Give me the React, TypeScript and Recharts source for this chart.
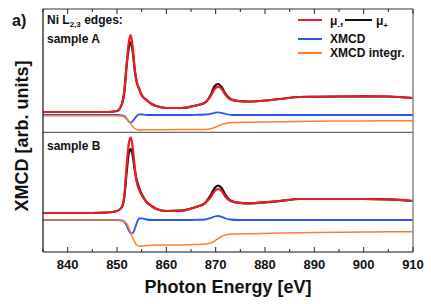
import { LineChart, Line, XAxis, YAxis, ReferenceLine } from "recharts";

// photon energy grid [eV]
const energy = [
  835, 840, 845, 848, 850, 851, 851.5, 852, 852.4, 852.8, 853.2, 853.6, 854, 854.5, 855, 856, 857, 858, 860, 863,
  866, 867.8, 869, 869.8, 870.5, 871.2, 872, 873, 874.5, 876.3, 879, 883, 887, 890, 895, 900, 905, 910,
];

// sample A (upper panel, offset)
const muMinusA = [
  14.1, 14.1, 14.1, 14.1, 14.2, 14.9, 16.3, 19.1, 21.1, 21.8, 20.5, 18.3, 17.1, 16.4, 15.8, 15.3, 14.9, 14.7, 14.5, 14.5,
  14.75, 15.03, 15.7, 16.4, 16.63, 16.4, 15.8, 15.35, 15.2, 15.15, 15.2, 15.4, 15.6, 15.62, 15.65, 15.67, 15.65, 15.5,
];
const muPlusA = [
  14.1, 14.1, 14.1, 14.1, 14.2, 14.9, 16.2, 19.0, 20.5, 21.1, 20.1, 18.3, 17.1, 16.4, 15.8, 15.3, 14.9, 14.7, 14.5, 14.5,
  14.75, 15.03, 15.8, 16.7, 16.9, 16.6, 15.9, 15.4, 15.2, 15.15, 15.2, 15.4, 15.6, 15.62, 15.65, 15.67, 15.65, 15.5,
];
const xmcdA = [
  13.8, 13.8, 13.8, 13.8, 13.8, 13.77, 13.7, 13.4, 13.15, 13.03, 13.2, 13.45, 13.7, 13.87, 13.85, 13.8, 13.8, 13.8, 13.8, 13.8,
  13.82, 13.85, 13.92, 14.02, 14.07, 14.02, 13.9, 13.82, 13.8, 13.8, 13.8, 13.8, 13.8, 13.8, 13.8, 13.8, 13.8, 13.8,
];
const integrA = [
  13.73, 13.73, 13.73, 13.73, 13.73, 13.7, 13.6, 13.4, 13.15, 12.9, 12.65, 12.45, 12.35, 12.3, 12.3, 12.32, 12.32, 12.33, 12.33, 12.34,
  12.34, 12.35, 12.42, 12.55, 12.7, 12.85, 12.95, 13.02, 13.05, 13.07, 13.1, 13.12, 13.15, 13.17, 13.19, 13.21, 13.22, 13.23,
];

// sample B (lower panel)
const muMinusB = [
  4.0, 4.0, 4.0, 4.05, 4.2, 4.6, 5.8, 9.0, 11.0, 11.57, 10.5, 8.5, 7.1, 6.3, 5.8, 5.1, 4.7, 4.4, 4.2, 4.23,
  4.6, 4.97, 5.6, 6.2, 6.4, 6.2, 5.6, 5.2, 5.03, 4.97, 5.03, 5.2, 5.4, 5.4, 5.4, 5.4, 5.37, 5.2,
];
const muPlusB = [
  4.0, 4.0, 4.0, 4.05, 4.2, 4.6, 5.7, 8.3, 10.0, 10.4, 9.7, 8.3, 7.3, 6.5, 5.9, 5.1, 4.7, 4.4, 4.2, 4.23,
  4.6, 4.97, 5.8, 6.5, 6.73, 6.5, 5.8, 5.25, 5.03, 4.97, 5.03, 5.2, 5.4, 5.4, 5.4, 5.4, 5.37, 5.2,
];
const xmcdB = [
  3.3, 3.3, 3.3, 3.3, 3.3, 3.25, 3.1, 2.7, 2.25, 1.95, 2.0, 2.4, 3.0, 3.45, 3.47, 3.35, 3.3, 3.3, 3.3, 3.3,
  3.32, 3.35, 3.5, 3.65, 3.7, 3.62, 3.45, 3.35, 3.3, 3.3, 3.3, 3.3, 3.3, 3.3, 3.3, 3.3, 3.3, 3.3,
];
const integrB = [
  3.3, 3.3, 3.3, 3.3, 3.3, 3.25, 3.15, 2.9, 2.5, 2.0, 1.5, 1.1, 0.8, 0.7, 0.7, 0.75, 0.78, 0.8, 0.8, 0.8,
  0.85, 0.9, 1.0, 1.2, 1.45, 1.65, 1.8, 1.87, 1.9, 1.92, 1.95, 2.0, 2.03, 2.05, 2.08, 2.1, 2.12, 2.13,
];

const xTicks = [835, 840, 845, 850, 855, 860, 865, 870, 875, 880, 885, 890, 895, 900, 905, 910];
const panelSplit = 12.07;

const rows = energy.map((e, i) => ({
  e,
  muMinusA: muMinusA[i],
  muPlusA: muPlusA[i],
  xmcdA: xmcdA[i],
  integrA: integrA[i],
  muMinusB: muMinusB[i],
  muPlusB: muPlusB[i],
  xmcdB: xmcdB[i],
  integrB: integrB[i],
}));

const RED = "#ec1c24";
const BLACK = "#111111";
const BLUE = "#2a55f0";
const ORANGE = "#ff7f27";
const FONT = "'Liberation Sans', Arial, sans-serif";

function BottomTick({ x, y, payload }: any) {
  const major = payload.value % 10 === 0;
  return (
    <g>
      <line x1={x} x2={x} y1={y} y2={y - (major ? 5 : 3)} stroke="#222" strokeWidth={1} />
      {major && (
        <text x={x} y={y + 17} textAnchor="middle" fontFamily={FONT} fontWeight="bold" fontSize={13} fill="#111">
          {payload.value}
        </text>
      )}
    </g>
  );
}

function TopTick({ x, y, payload }: any) {
  const major = payload.value % 10 === 0;
  return <line x1={x} x2={x} y1={y} y2={y + (major ? 5 : 3)} stroke="#222" strokeWidth={1} />;
}

const txt = (extra: any) => ({
  position: "absolute" as const,
  fontFamily: FONT,
  fontWeight: "bold" as const,
  lineHeight: 1,
  whiteSpace: "nowrap" as const,
  color: "#111",
  ...extra,
});

function LegendLine({ color, top, left, width = 24 }: any) {
  return (
    <div style={{ position: "absolute", left, top: top - 1, width, height: 2.2, background: color }} />
  );
}

export default function App() {
  return (
    <div style={{ position: "absolute", left: 0, top: 0, width: 431, height: 304, background: "#fff" }}>
      <LineChart width={431} height={304} data={rows} margin={{ top: 7, right: 16, bottom: 22, left: 41 }}>
        <XAxis
          dataKey="e"
          type="number"
          domain={[835, 910]}
          ticks={xTicks}
          interval={0}
          tickSize={0}
          tickMargin={0}
          tickLine={false}
          height={30}
          axisLine={{ stroke: "#111", strokeWidth: 1.2 }}
          tick={<BottomTick />}
        />
        <XAxis
          xAxisId="top"
          dataKey="e"
          type="number"
          orientation="top"
          domain={[835, 910]}
          ticks={xTicks}
          interval={0}
          tickSize={0}
          tickMargin={0}
          tickLine={false}
          height={2}
          axisLine={{ stroke: "#333", strokeWidth: 1 }}
          tick={<TopTick />}
        />
        <YAxis
          type="number"
          domain={[0.1, 24.4]}
          width={2}
          tick={false}
          tickLine={false}
          axisLine={{ stroke: "#111", strokeWidth: 1.2 }}
        />
        <YAxis
          yAxisId="r"
          orientation="right"
          type="number"
          domain={[0.1, 24.4]}
          width={2}
          tick={false}
          tickLine={false}
          axisLine={{ stroke: "#888", strokeWidth: 1.5 }}
        />
        <ReferenceLine y={panelSplit} stroke="#444" strokeWidth={1} />

        <Line type="monotone" dataKey="xmcdA" stroke={BLUE} strokeWidth={1.8} dot={false} isAnimationActive={false} />
        <Line type="monotone" dataKey="integrA" stroke={ORANGE} strokeWidth={1.5} dot={false} isAnimationActive={false} />
        <Line type="monotone" dataKey="muPlusA" stroke={BLACK} strokeWidth={2.2} dot={false} isAnimationActive={false} />
        <Line type="monotone" dataKey="muMinusA" stroke={RED} strokeWidth={2.2} dot={false} isAnimationActive={false} />

        <Line type="monotone" dataKey="xmcdB" stroke={BLUE} strokeWidth={1.8} dot={false} isAnimationActive={false} />
        <Line type="monotone" dataKey="integrB" stroke={ORANGE} strokeWidth={1.5} dot={false} isAnimationActive={false} />
        <Line type="monotone" dataKey="muPlusB" stroke={BLACK} strokeWidth={2.2} dot={false} isAnimationActive={false} />
        <Line type="monotone" dataKey="muMinusB" stroke={RED} strokeWidth={2.2} dot={false} isAnimationActive={false} />
      </LineChart>

      {/* panel annotations */}
      <div style={txt({ left: 12, top: 12.5, fontSize: 16 })}>a)</div>
      <div style={txt({ left: 47, top: 14, fontSize: 12 })}>
        Ni L<sub style={{ fontSize: 8, verticalAlign: "-3px" }}>2,3</sub> edges:
      </div>
      <div style={txt({ left: 47, top: 32.5, fontSize: 12 })}>sample A</div>
      <div style={txt({ left: 47, top: 140, fontSize: 12 })}>sample B</div>

      {/* legend */}
      <LegendLine color={RED} left={298} top={20} />
      <div style={txt({ left: 330, top: 15, fontSize: 12 })}>
        μ<sub style={{ fontSize: 8, verticalAlign: "-3px" }}>-</sub>,
      </div>
      <LegendLine color={BLACK} left={345} top={20} width={27} />
      <div style={txt({ left: 376, top: 15, fontSize: 12 })}>
        μ<sub style={{ fontSize: 8, verticalAlign: "-3px" }}>+</sub>
      </div>
      <LegendLine color={BLUE} left={298} top={39.3} />
      <div style={txt({ left: 330, top: 33, fontSize: 12 })}>XMCD</div>
      <LegendLine color={ORANGE} left={298} top={53.3} />
      <div style={txt({ left: 330, top: 47, fontSize: 12 })}>XMCD integr.</div>

      {/* axis titles */}
      <div
        style={txt({
          left: 21.5,
          top: 136,
          fontSize: 18,
          transform: "translate(-50%, -50%) rotate(-90deg)",
        })}
      >
        XMCD [arb. units]
      </div>
      <div style={txt({ left: 228, top: 278, fontSize: 18, transform: "translateX(-50%)" })}>
        Photon Energy [eV]
      </div>
    </div>
  );
}
